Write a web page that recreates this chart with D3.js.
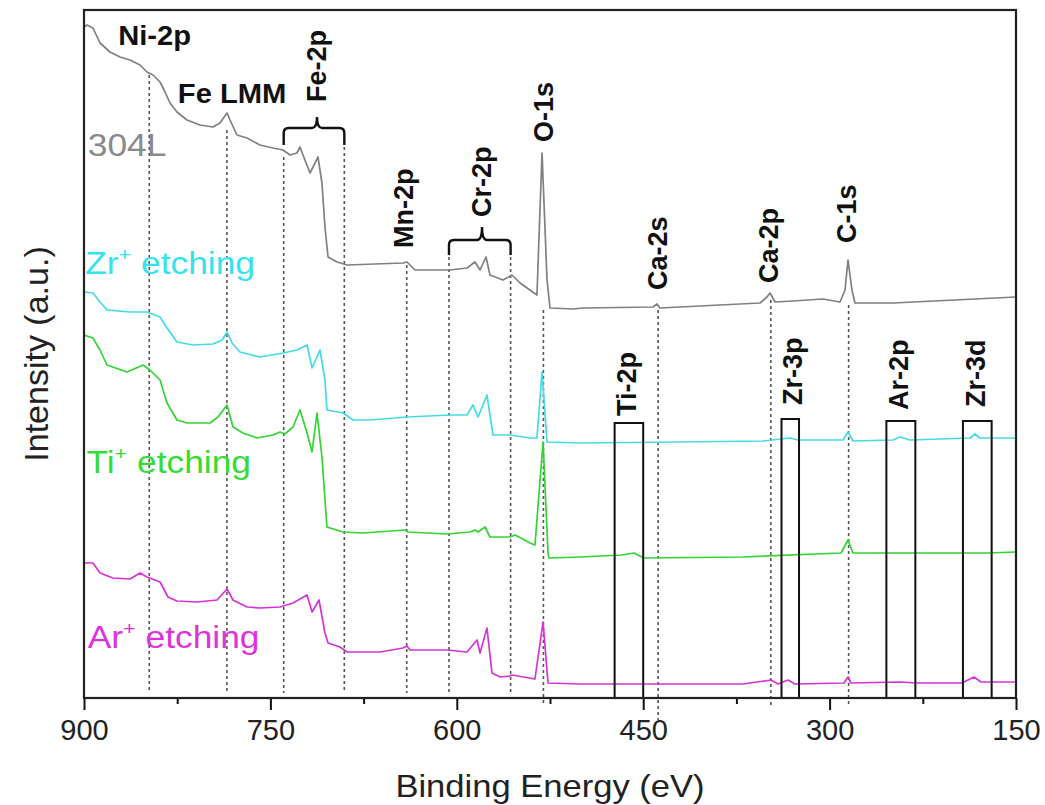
<!DOCTYPE html>
<html><head><meta charset="utf-8">
<script src="https://cdn.jsdelivr.net/npm/d3@7"></script>
<style>body{margin:0;background:#fff}svg{display:block}</style>
</head><body>
<svg id="chart" width="1045" height="805"></svg>
<script>
// ---------------- DATA (binding energy eV, intensity a.u.) ----------------
const xTicksMajor = [900, 750, 600, 450, 300, 150];
const xTicksMinor = [825, 675, 525, 375, 225];
const seriesNames = ["304L", "Zr", "Ti", "Ar"];

const s304L = [[900,671],[897.6,673],[892.8,670],[887.1,655],[879.1,646],[871,641],[863,638],[854.9,633],[849.3,626],[844.5,623],[838.8,616],[834.8,606],[830.8,595],[825.2,586],[817.1,578],[806.7,573],[796.2,571],[790.6,575],[784.9,585],[782.5,578],[776.9,563],[768.8,560],[758.4,553],[747.9,550],[739.9,548],[734.2,543],[728.6,545],[726.2,551],[722.2,538],[718.1,525],[715.7,531],[711.7,541],[708.5,515],[706.1,471],[703.6,441],[696.4,436],[688.4,433],[643.3,435],[640.1,436],[633.6,428],[605.5,428],[591.8,430],[585.4,436],[581.3,428],[576.5,441],[573.3,423],[562.8,418],[555.6,423],[549.1,415],[541.1,408],[535.5,403],[531.4,545],[527.4,418],[525,390],[506.5,389],[498.4,390],[442.1,391],[438.9,394],[436.5,390],[356,395],[350.4,401],[347.9,405],[343.9,396],[329.5,397],[305.3,399],[291.6,396],[287.6,408],[285.2,438],[282,408],[279.6,395],[248.9,395],[150,401]];

const sZr = [[900,406],[892.8,405],[887.1,396],[881.5,388],[863,386],[849.3,386],[838.8,381],[833.2,370],[825.2,356],[812.3,353],[796.2,354],[788.9,358],[784.9,366],[780.9,355],[774.5,346],[758.4,341],[739.9,345],[728.6,348],[720.5,353],[716.5,330],[710.1,348],[706.1,318],[704.5,288],[691.6,285],[683.5,278],[669.9,278],[640.1,281],[605.5,283],[591.8,283],[587,293],[582.9,281],[575.7,303],[570.9,263],[557.2,263],[541.1,260],[535.5,260],[531.4,326],[527.4,256],[500.9,255],[420.4,256],[353.6,257],[331.9,260],[325.4,258],[289.2,258],[285.2,266],[281.2,257],[248.9,258],[243.4,261],[235.3,258],[187,260],[183,264],[179,260],[150,260]];

const sTi = [[900,363],[892.8,360],[887.1,348],[881.5,333],[865.4,326],[852.5,333],[846.9,328],[838.8,318],[833.2,295],[825.2,278],[817.1,275],[798.6,275],[792.2,281],[784.9,293],[780.1,271],[772.1,265],[760.8,260],[747.9,263],[742.3,266],[738.3,264],[731.8,271],[726.2,288],[720.5,265],[716.5,246],[712.5,285],[708.5,241],[704.5,171],[691.6,166],[675.5,165],[641.7,168],[639.3,166],[607.9,164],[589.4,166],[585.4,168],[582.9,166],[577.3,171],[573.3,161],[557.2,161],[553,163],[541.1,155],[537.1,153],[530.6,256],[526.6,145],[525.8,140],[500.9,141],[467.1,143],[457.4,145],[449.4,140],[369.7,141],[290.8,145],[285.2,158],[281.2,145],[243.4,145],[173.4,145],[150,146]];

const sAr = [[900,135],[892.8,135],[887.1,125],[876.7,120],[863,119],[854.9,125],[849.3,121],[838.8,116],[832.4,101],[825.2,97],[809.1,96],[793,98],[784.9,109],[780.1,98],[768.8,91],[758.4,90],[742.3,91],[731.8,95],[720.5,103],[716.5,86],[710.9,98],[706.1,65],[703.6,55],[694,51],[688.4,46],[661.8,46],[643.3,50],[640.1,52],[637.7,48],[607.9,48],[591.8,46],[583.7,58],[581.3,45],[575.7,70],[571.7,25],[565.2,21],[557.2,22],[555.6,23],[537.1,19],[530.6,76],[526.6,15],[500.9,14],[453.4,14],[369.7,14],[347.2,18],[341.5,14],[333.5,18],[327.9,14],[288.4,15],[285.2,21],[282.8,15],[243.4,16],[229.7,15],[193.5,15],[183.8,21],[178.2,16],[150,16]];

// peak guide lines: energy, top intensity, bottom intensity
const guideE   = [847.5, 785, 739.3, 690.5, 640.3, 606.3, 556.7, 530.3, 438, 347.3, 284.7];
const guideTop = [623, 568, 541, 551, 433, 441, 441, 388, 388, 398, 393];
const guideBot = [5, 5, 5, 5, 5, 5, 5, -7, -22, -7, -7];

// vertical peak labels: text, energy, bottom intensity
const peakLabels = ["Fe-2p", "Mn-2p", "Cr-2p", "O-1s", "Ca-2s", "Ca-2p", "C-1s", "Ti-2p", "Zr-3p", "Ar-2p", "Zr-3d"];
const peakLabelE = [713, 643, 580.5, 530.3, 438.5, 349.5, 287, 464, 330, 245, 183];
const peakLabelI = [596, 450, 481, 556, 408, 415, 455, 282, 293, 288, 291];

// boxes: energy from/to, top intensity
const boxNames = ["Ti-2p", "Zr-3p", "Ar-2p", "Zr-3d"];
const boxE1 = [473, 338.7, 254.3, 192.7];
const boxE2 = [450, 324.6, 231, 169.6];
const boxTop = [275, 279, 277, 277];

// brackets: from, to, middle energy; bar, end, tip intensities
const brE1 = [739.3, 606.3], brE2 = [690.5, 556.7], brEm = [712.5, 579.7];
const brBar = [570, 458], brEnd = [553, 443], brTip = [581, 471];

// ---------------- CHART ----------------
const svg = d3.select("#chart");
const L = 84, R = 1016, T = 10, B = 698;
const x = d3.scaleLinear().domain([900, 150]).range([L, R]);
const y = d3.scaleLinear().domain([0, 688]).range([B, T]);
const font = "'Liberation Sans', Arial, Helvetica, sans-serif";

// guide lines
svg.append("g").selectAll("line").data(guideE).join("line")
  .attr("x1", d => x(d)).attr("x2", d => x(d))
  .attr("y1", (d,i) => y(guideTop[i])).attr("y2", (d,i) => y(guideBot[i]))
  .attr("stroke", "#555").attr("stroke-width", 1.6).attr("stroke-dasharray", "3,3");

// series
const line = d3.line().x(d => x(d[0])).y(d => y(d[1]));
const series = [
  {data: s304L, color: "#808080"},
  {data: sZr, color: "#45dbe6"},
  {data: sTi, color: "#33d433"},
  {data: sAr, color: "#d633d6"}
];
svg.append("g").selectAll("path").data(series).join("path")
  .attr("d", d => line(d.data)).attr("fill", "none")
  .attr("stroke", d => d.color).attr("stroke-width", 1.7).attr("stroke-linejoin", "round");

// boxes
svg.append("g").selectAll("rect").data(boxNames).join("rect")
  .attr("x", (d,i) => x(boxE1[i])).attr("width", (d,i) => x(boxE2[i]) - x(boxE1[i]))
  .attr("y", (d,i) => y(boxTop[i])).attr("height", (d,i) => y(0) - y(boxTop[i]))
  .attr("fill", "none").attr("stroke", "#111").attr("stroke-width", 2);

// brackets
svg.append("g").selectAll("path").data(brE1).join("path")
  .attr("d", (d,i) => {
    const x1 = x(brE1[i]), x2 = x(brE2[i]), xm = x(brEm[i]);
    const yb = y(brBar[i]), ye = y(brEnd[i]), yt = y(brTip[i]), r = 5;
    return `M${x1},${ye} L${x1},${yb+r} Q${x1},${yb} ${x1+r},${yb} L${xm-r},${yb} Q${xm},${yb} ${xm},${yt}` +
           ` M${xm},${yt} Q${xm},${yb} ${xm+r},${yb} L${x2-r},${yb} Q${x2},${yb} ${x2},${yb+r} L${x2},${ye}`;
  })
  .attr("fill", "none").attr("stroke", "#111").attr("stroke-width", 2.4);

// vertical peak labels
svg.append("g").selectAll("text").data(peakLabels).join("text")
  .attr("transform", (d,i) => `translate(${x(peakLabelE[i]) + 10},${y(peakLabelI[i])}) rotate(-90)`)
  .attr("font-family", font).attr("font-weight", "bold").attr("font-size", 27)
  .attr("fill", "#111").text(d => d);

// horizontal labels (slightly wide, as in the reference)
[["Ni-2p", 872.5, 653], ["Fe LMM", 824.5, 595]].forEach(([t, e, i]) => {
  svg.append("text").attr("transform", `translate(${x(e)},${y(i)}) scale(1.08,1)`)
    .attr("font-family", font).attr("font-weight", "bold").attr("font-size", 27)
    .attr("fill", "#111").text(t);
});

// series labels
const sLab = [
  {t: "304L", sup: null, e: 897, i: 542, c: "#8a8a8a"},
  {t: "Zr", sup: "+", rest: " etching", e: 899, i: 424, c: "#35e3ee"},
  {t: "Ti", sup: "+", rest: " etching", e: 898, i: 225, c: "#33dd33"},
  {t: "Ar", sup: "+", rest: " etching", e: 897, i: 50, c: "#dd33dd"}
];
sLab.forEach(s => {
  const t = svg.append("text").attr("transform", `translate(${x(s.e)},${y(s.i)}) scale(1.14,1)`)
    .attr("font-family", font).attr("font-size", 31).attr("fill", s.c);
  t.append("tspan").text(s.t);
  if (s.sup) {
    t.append("tspan").attr("dy", -13).attr("font-size", 19).text(s.sup);
    t.append("tspan").attr("dy", 13).text(s.rest);
  }
});

// axes
const gx = svg.append("g").attr("transform", `translate(0,${B})`);
gx.call(d3.axisBottom(x).tickValues(xTicksMajor).tickSize(12).tickPadding(9).tickFormat(d3.format("d")));
gx.select(".domain").remove();
gx.selectAll(".tick line").attr("stroke", "#111").attr("stroke-width", 2);
gx.selectAll(".tick text").attr("font-family", font).attr("font-size", 29).attr("fill", "#222");
const gm = svg.append("g").attr("transform", `translate(0,${B})`);
gm.call(d3.axisBottom(x).tickValues(xTicksMinor).tickSize(6).tickFormat(""));
gm.select(".domain").remove();
gm.selectAll(".tick line").attr("stroke", "#111").attr("stroke-width", 2);

// frame
svg.append("rect").attr("x", L).attr("y", T).attr("width", R - L).attr("height", B - T)
  .attr("fill", "none").attr("stroke", "#222").attr("stroke-width", 2.2);

// axis titles
svg.append("text").attr("transform", `translate(${(L + R) / 2 + 0},797) scale(1.08,1)`).attr("text-anchor", "middle")
  .attr("font-family", font).attr("font-size", 32).attr("fill", "#222").text("Binding Energy (eV)");
svg.append("text").attr("transform", `translate(48,${(T + B) / 2}) rotate(-90)`).attr("text-anchor", "middle")
  .attr("font-family", font).attr("font-size", 34).attr("fill", "#222").text("Intensity (a.u.)");
</script>
</body></html>
